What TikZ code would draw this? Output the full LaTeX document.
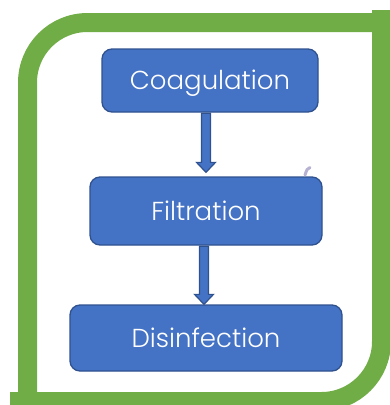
\documentclass[tikz,border=0pt]{standalone}
\usepackage{fontspec}
\setmainfont{Poppins}[UprightFont=* Light]
\usetikzlibrary{calc}

\definecolor{framegreen}{HTML}{70AD47}
\definecolor{boxblue}{HTML}{4472C4}
\definecolor{boxedge}{HTML}{2F528F}
\definecolor{penmark}{HTML}{B7B1D3}

% block arrow from one point down to another
\newcommand*{\blockarrow}[2]{%
	\draw[flowarrow] let \p1=(#1), \p2=(#2) in
		(\x1-4.5pt,\y1) -- (\x1-4.5pt,\y2+10pt) -- (\x1-9.5pt,\y2+10pt)
		-- (\x1,\y2) -- (\x1+9.5pt,\y2+10pt) -- (\x1+4.5pt,\y2+10pt)
		-- (\x1+4.5pt,\y1) -- cycle;
}

\begin{document}
\begin{tikzpicture}
[
	x=1pt,
	y=-1pt,
	stage/.style={rectangle,rounded corners=10pt,draw=boxedge,line width=1.3pt,
		fill=boxblue,text=white,font=\fontsize{26}{30}\selectfont,inner sep=0pt,
		text height=18pt,text depth=0pt},
	flowarrow/.style={fill=boxblue,draw=boxedge,line width=1.2pt,line join=miter},
	frame/.style={draw=framegreen,line width=19pt,line join=miter}
]

	\useasboundingbox (0,0) rectangle (390,405);

	% green frame, round at top left and bottom right
	\begin{scope}
		\clip (0,0) rectangle (390,405);
		\draw[frame] (27.5,420) -- (27.5,82.5) arc[start angle=180,end angle=270,radius=60]
			-- (400,22.5);
		\draw[frame] (381.5,10) -- (381.5,341.5) arc[start angle=0,end angle=90,radius=60]
			-- (10,401.5);
	\end{scope}

	% stages
	\node[stage,minimum width=216pt,minimum height=63pt] (coag) at (210,80.5) {Coagulation};
	\node[stage,minimum width=232pt,minimum height=68pt] (filt) at (206,211) {Filtration};
	\node[stage,minimum width=272pt,minimum height=66pt] (disin) at (206,338) {Disinfection};

	% arrows
	\coordinate (coagfoot) at ($(coag.south -| filt.north)+(0,0.5)$);
	\coordinate (filttop) at ($(filt.north)+(0,-4)$);
	\coordinate (filtfoot) at ($(filt.south)+(-2,0.5)$);
	\coordinate (disintop) at ($(disin.north)+(-2,0)$);
	\blockarrow{coagfoot}{filttop}
	\blockarrow{filtfoot}{disintop}

	% stray pen mark
	\draw[penmark,line width=3pt,line cap=round] (310,167.5) .. controls (307,169) .. (305,175);

\end{tikzpicture}
\end{document}
